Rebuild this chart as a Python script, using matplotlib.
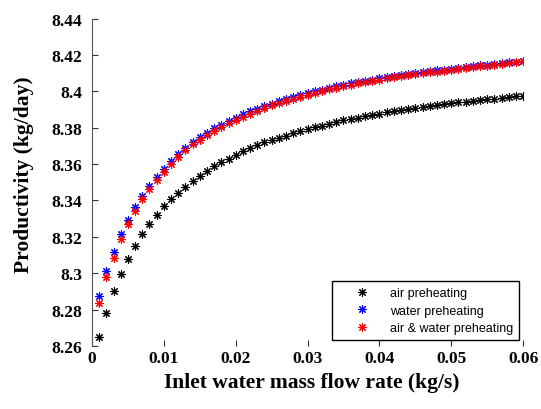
import matplotlib

matplotlib.use("Agg")
import matplotlib.pyplot as plt

# inlet water mass flow rate (kg/s), 0.001 .. 0.060
flow_rate = [round(0.001 * (i + 1), 3) for i in range(60)]

# productivity (kg/day)
air = [
    8.2650, 8.2783, 8.2903, 8.2994, 8.3077, 8.3152, 8.3218, 8.3273, 8.3322, 8.3368,
    8.3409, 8.3443, 8.3476, 8.3507, 8.3536, 8.3563, 8.3589, 8.3610, 8.3630, 8.3650,
    8.3670, 8.3688, 8.3704, 8.3720, 8.3733, 8.3746, 8.3757, 8.3769, 8.3781, 8.3792,
    8.3803, 8.3812, 8.3821, 8.3832, 8.3840, 8.3848, 8.3856, 8.3863, 8.3870, 8.3877,
    8.3884, 8.3890, 8.3896, 8.3902, 8.3908, 8.3914, 8.3919, 8.3924, 8.3929, 8.3934,
    8.3939, 8.3943, 8.3948, 8.3952, 8.3956, 8.3960, 8.3964, 8.3968, 8.3972, 8.3976,
]
water = [
    8.2877, 8.3011, 8.3119, 8.3214, 8.3293, 8.3366, 8.3427, 8.3480, 8.3528, 8.3574,
    8.3616, 8.3655, 8.3690, 8.3721, 8.3748, 8.3773, 8.3796, 8.3817, 8.3837, 8.3856,
    8.3873, 8.3890, 8.3905, 8.3919, 8.3933, 8.3946, 8.3958, 8.3969, 8.3980, 8.3991,
    8.4001, 8.4010, 8.4019, 8.4028, 8.4036, 8.4044, 8.4051, 8.4058, 8.4065, 8.4071,
    8.4077, 8.4083, 8.4089, 8.4094, 8.4100, 8.4105, 8.4110, 8.4115, 8.4120, 8.4125,
    8.4130, 8.4134, 8.4138, 8.4143, 8.4147, 8.4151, 8.4155, 8.4159, 8.4164, 8.4169,
]
air_water = [
    8.2838, 8.2978, 8.3086, 8.3187, 8.3269, 8.3344, 8.3407, 8.3462, 8.3511, 8.3559,
    8.3602, 8.3641, 8.3677, 8.3708, 8.3735, 8.3760, 8.3783, 8.3804, 8.3824, 8.3844,
    8.3861, 8.3878, 8.3894, 8.3908, 8.3923, 8.3936, 8.3948, 8.3960, 8.3971, 8.3982,
    8.3993, 8.4002, 8.4011, 8.4020, 8.4029, 8.4037, 8.4044, 8.4051, 8.4058, 8.4065,
    8.4071, 8.4077, 8.4083, 8.4088, 8.4094, 8.4099, 8.4104, 8.4109, 8.4114, 8.4119,
    8.4124, 8.4129, 8.4133, 8.4138, 8.4142, 8.4146, 8.4151, 8.4155, 8.4160, 8.4165,
]

x_ticks = [0, 0.01, 0.02, 0.03, 0.04, 0.05, 0.06]
x_labels = ["0", "0.01", "0.02", "0.03", "0.04", "0.05", "0.06"]
y_ticks = [8.26, 8.28, 8.30, 8.32, 8.34, 8.36, 8.38, 8.40, 8.42, 8.44]
y_labels = ["8.26", "8.28", "8.3", "8.32", "8.34", "8.36", "8.38", "8.4", "8.42", "8.44"]

serif = ["Liberation Serif", "DejaVu Serif"]
star = (8, 2, 0)  # 8-spoke asterisk like MATLAB '*'

fig = plt.figure(figsize=(5.41, 4.10), dpi=100)
ax = fig.add_axes([0.170, 0.154, 0.797, 0.798])

for ys, col, lab in [(air, "black", "air preheating"),
                     (water, "blue", "water preheating"),
                     (air_water, "red", "air & water preheating")]:
    ax.plot(flow_rate, ys, linestyle="none", marker=star, markersize=6,
            markeredgewidth=0.8, color=col, label=lab)

ax.set_xlim(0, 0.06)
ax.set_ylim(8.26, 8.44)
ax.set_xticks(x_ticks)
ax.set_xticklabels(x_labels, family=serif, fontweight="bold", fontsize=12.5)
ax.set_yticks(y_ticks)
ax.set_yticklabels(y_labels, family=serif, fontweight="bold", fontsize=12.5)
ax.tick_params(direction="in", length=4, width=0.8, colors="#333333",
               labelcolor="black")
ax.tick_params(axis="y", pad=7)
ax.tick_params(axis="x", pad=3)

for side in ("top", "right", "bottom"):
    ax.spines[side].set_visible(False)
ax.spines["left"].set_color("#555555")

ax.set_xlabel("Inlet water mass flow rate (kg/s)", family=serif,
              fontweight="bold", fontsize=15.5)
ax.set_ylabel("Productivity (kg/day)", family=serif,
              fontweight="bold", fontsize=15.5)
ax.xaxis.set_label_coords(0.51, -0.08)
ax.yaxis.set_label_coords(-0.135, 0.525)

leg = ax.legend(loc="lower right", bbox_to_anchor=(0.991, 0.018),
                borderaxespad=0, fancybox=False, edgecolor="black",
                framealpha=1, prop={"family": "Liberation Sans", "size": 9},
                handlelength=3.9, handletextpad=0.3, labelspacing=0.45,
                borderpad=0.45)
leg.get_frame().set_linewidth(1.0)

fig.savefig("out.png", dpi=100)
